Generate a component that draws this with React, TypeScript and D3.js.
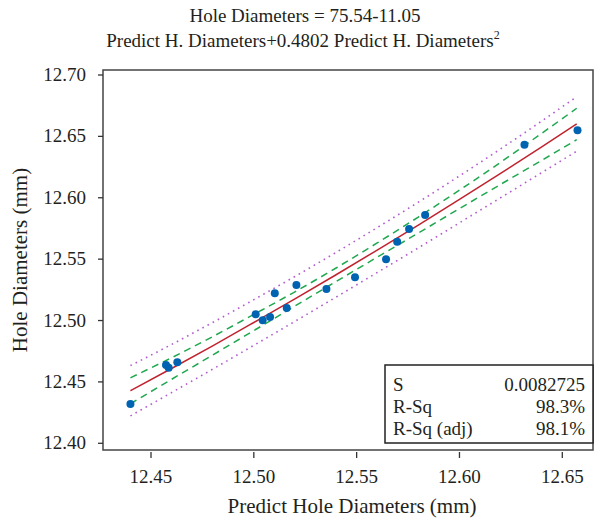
import React from "react";
import * as d3 from "d3";

const predicted = [12.44, 12.4573, 12.4586, 12.4628, 12.5009, 12.5043, 12.5079, 12.5102, 12.516, 12.5207, 12.5353, 12.5492, 12.5643, 12.5697, 12.5755, 12.5833, 12.6316, 12.6574];
const actual = [12.432, 12.4638, 12.4616, 12.466, 12.5051, 12.5002, 12.5029, 12.5222, 12.5102, 12.529, 12.5257, 12.5352, 12.5499, 12.5642, 12.5746, 12.586, 12.6432, 12.655];

const lineX = [12.44, 12.46, 12.48, 12.5, 12.52, 12.54, 12.56, 12.58, 12.6, 12.62, 12.64, 12.657];
const fitY = [12.4428, 12.4609, 12.4794, 12.4984, 12.5176, 12.5373, 12.5574, 12.5778, 12.5987, 12.6199, 12.6415, 12.6601];
const ciUpper = [12.4534, 12.4697, 12.4869, 12.505, 12.5234, 12.5428, 12.5632, 12.5843, 12.6062, 12.6289, 12.6525, 12.6729];
const ciLower = [12.4322, 12.4521, 12.4719, 12.4918, 12.5118, 12.5318, 12.5516, 12.5713, 12.5912, 12.6109, 12.6305, 12.6473];
const piUpper = [12.4633, 12.4805, 12.4984, 12.517, 12.5359, 12.5555, 12.5757, 12.5964, 12.6178, 12.6398, 12.6625, 12.6823];
const piLower = [12.4223, 12.4413, 12.4604, 12.4798, 12.4993, 12.5191, 12.5391, 12.5592, 12.5796, 12.6, 12.6205, 12.6379];

const xTicks = [12.45, 12.5, 12.55, 12.6, 12.65];
const yTicks = [12.4, 12.45, 12.5, 12.55, 12.6, 12.65, 12.7];

const statLabels = ["S", "R-Sq", "R-Sq (adj)"];
const statValues = ["0.0082725", "98.3%", "98.1%"];

const W = 605, H = 524;
const L = 103, R = 593, T = 70, B = 450;
const FONT = "'Liberation Serif', 'Times New Roman', serif";

export default function App() {
  const x = d3.scaleLinear().domain([12.42666, 12.66493]).range([L, R]);
  const y = d3.scaleLinear().domain([12.39454, 12.70407]).range([B, T]);
  const mk = (ys: number[]) =>
    d3.line<number>().x((_, i) => x(lineX[i])).y((v) => y(v)).curve(d3.curveMonotoneX)(ys) || "";

  const boxL = 385, boxT = 365, boxB = 443;

  return (
    <svg width={W} height={H} style={{ position: "absolute", left: 0, top: 0, background: "#fff" }} fontFamily={FONT}>
      <text x={305} y={22} textAnchor="middle" fontSize={19} fill="#231f20">Hole Diameters = 75.54-11.05</text>
      <text x={303} y={47} textAnchor="middle" fontSize={19} fill="#231f20">
        Predict H. Diameters+0.4802 Predict H. Diameters
        <tspan fontSize={12} dy={-8}>2</tspan>
      </text>

      <path d={mk(piUpper)} fill="none" stroke="#b25cd0" strokeWidth={1.6} strokeDasharray="1.6,4.2" />
      <path d={mk(piLower)} fill="none" stroke="#b25cd0" strokeWidth={1.6} strokeDasharray="1.6,4.2" />
      <path d={mk(ciUpper)} fill="none" stroke="#1fa84f" strokeWidth={1.5} strokeDasharray="7,5" />
      <path d={mk(ciLower)} fill="none" stroke="#1fa84f" strokeWidth={1.5} strokeDasharray="7,5" />
      <path d={mk(fitY)} fill="none" stroke="#c0222e" strokeWidth={1.5} />

      {predicted.map((p, i) => (
        <circle key={i} cx={x(p)} cy={y(actual[i])} r={4} fill="#0063b1" />
      ))}

      <rect x={L} y={T} width={R - L} height={B - T} fill="none" stroke="#444" strokeWidth={1.5} />

      {xTicks.map((t) => (
        <g key={t}>
          <line x1={x(t)} x2={x(t)} y1={B + 2} y2={B + 8} stroke="#333" strokeWidth={1.3} />
          <text x={x(t)} y={483} textAnchor="middle" fontSize={19} fill="#231f20">{t.toFixed(2)}</text>
        </g>
      ))}
      {yTicks.map((t) => (
        <g key={t}>
          <line x1={L - 5} x2={L} y1={y(t)} y2={y(t)} stroke="#333" strokeWidth={1.3} />
          <text x={L - 17} y={y(t) + 6} textAnchor="end" fontSize={19} fill="#231f20">{t.toFixed(2)}</text>
        </g>
      ))}

      <text x={(L + R) / 2 + 4} y={513} textAnchor="middle" fontSize={21} fill="#231f20">Predict Hole Diameters (mm)</text>
      <text transform={`translate(27,${(T + B) / 2}) rotate(-90)`} textAnchor="middle" fontSize={21} fill="#231f20">Hole Diameters (mm)</text>

      <rect x={boxL} y={boxT} width={R - boxL} height={boxB - boxT} fill="#fff" stroke="#222" strokeWidth={1.5} />
      {statLabels.map((s, i) => (
        <g key={s}>
          <text x={boxL + 8} y={boxT + 26 + i * 22} fontSize={19} fill="#231f20">{s}</text>
          <text x={R - 8} y={boxT + 26 + i * 22} textAnchor="end" fontSize={19} fill="#231f20">{statValues[i]}</text>
        </g>
      ))}
    </svg>
  );
}
